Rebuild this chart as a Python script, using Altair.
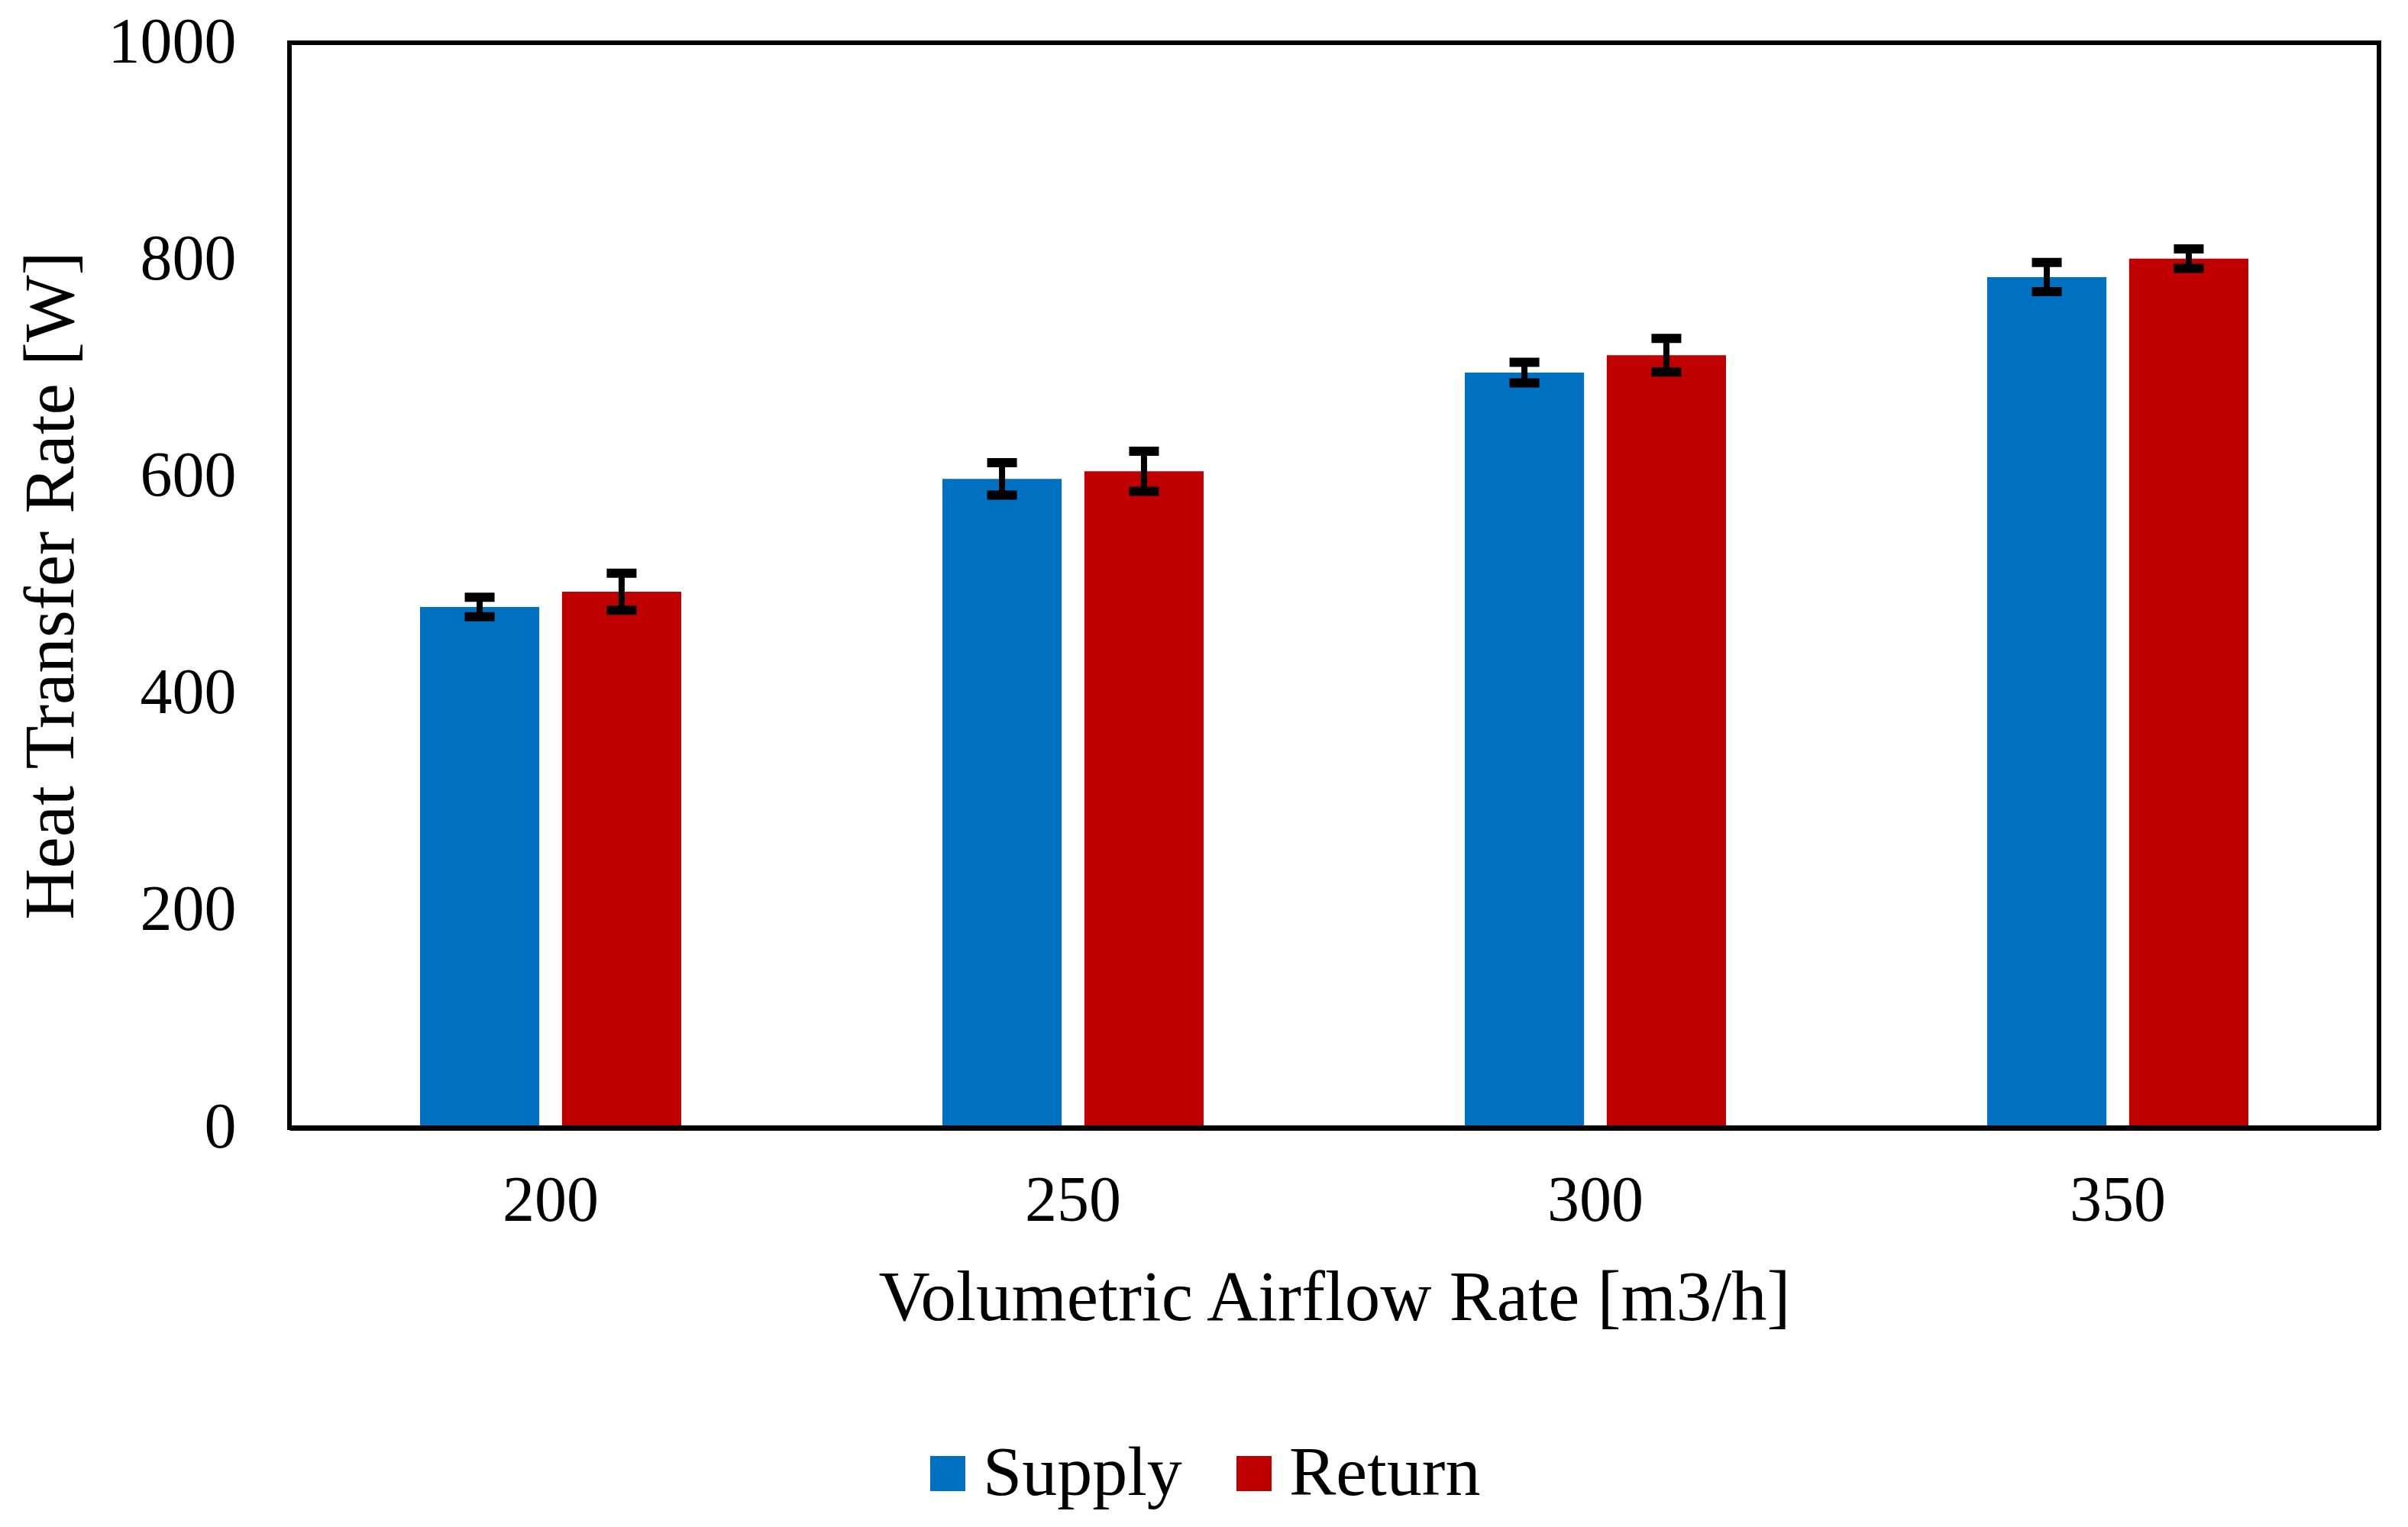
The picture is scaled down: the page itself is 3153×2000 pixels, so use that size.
import altair as alt
import pandas as pd

categories = ["200", "250", "300", "350"]
series = ["Supply", "Return"]
supply_values = [480, 598, 696, 784]
supply_errors = [9, 15, 9.5, 13.5]
return_values = [494, 605, 712, 801]
return_errors = [17, 18.5, 15.5, 9]
y_ticks = [0, 200, 400, 600, 800, 1000]
colors = ["#0070C0", "#C00000"]

rows = []
for c, v, e in zip(categories, supply_values, supply_errors):
    rows.append({"cat": c, "series": "Supply", "value": v, "lo": v - e, "hi": v + e})
for c, v, e in zip(categories, return_values, return_errors):
    rows.append({"cat": c, "series": "Return", "value": v, "lo": v - e, "hi": v + e})
df = pd.DataFrame(rows)

FONT = "Liberation Serif"

x_enc = alt.X(
    "cat:N",
    sort=categories,
    scale=alt.Scale(paddingInner=0.5, paddingOuter=0.25),
    axis=alt.Axis(
        title="Volumetric Airflow Rate [m3/h]",
        labelAngle=0,
        ticks=False,
        tickSize=0,
        labelPadding=55,
        titlePadding=40,
        domain=True,
        domainColor="black",
        domainWidth=7,
        zindex=1,
        grid=False,
        labelFont=FONT,
        labelFontSize=84,
        labelColor="black",
        titleFont=FONT,
        titleFontSize=93,
        titleFontWeight="normal",
        titleColor="black",
    ),
)
xoff_enc = alt.XOffset("series:N", sort=series, scale=alt.Scale(paddingInner=0.16, paddingOuter=0))
y_scale = alt.Scale(domain=[0, 1000], nice=False)

bars = alt.Chart(df).mark_bar().encode(
    x=x_enc,
    xOffset=xoff_enc,
    y=alt.Y(
        "value:Q",
        scale=y_scale,
        axis=alt.Axis(
            title="Heat Transfer Rate [W]",
            values=y_ticks,
            format="d",
            ticks=False,
            tickSize=0,
            labelPadding=70,
            titlePadding=64,
            domain=False,
            grid=False,
            labelFont=FONT,
            labelFontSize=84,
            labelColor="black",
            titleFont=FONT,
            titleFontSize=93,
            titleFontWeight="normal",
            titleColor="black",
        ),
    ),
    color=alt.Color(
        "series:N",
        sort=series,
        scale=alt.Scale(domain=series, range=colors),
        legend=alt.Legend(
            title=None,
            orient="none",
            direction="horizontal",
            legendX=816,
            legendY=1828,
            padding=0,
            symbolType="square",
            symbolSize=2116,
            symbolStrokeWidth=0,
            labelFont=FONT,
            labelFontSize=92,
            labelColor="black",
            labelOffset=0,
            columnPadding=48,
            labelLimit=0,
        ),
    ),
)

stems = alt.Chart(df).mark_rule(color="black", strokeWidth=8).encode(
    x=alt.X("cat:N", sort=categories),
    xOffset=xoff_enc,
    y=alt.Y("lo:Q", scale=y_scale),
    y2="hi:Q",
)
caps_lo = alt.Chart(df).mark_tick(color="black", size=39, thickness=12, opacity=1).encode(
    x=alt.X("cat:N", sort=categories),
    xOffset=xoff_enc,
    y=alt.Y("lo:Q", scale=y_scale),
)
caps_hi = alt.Chart(df).mark_tick(color="black", size=39, thickness=12, opacity=1).encode(
    x=alt.X("cat:N", sort=categories),
    xOffset=xoff_enc,
    y=alt.Y("hi:Q", scale=y_scale),
)

chart = (
    alt.layer(bars, stems, caps_lo, caps_hi)
    .properties(
        width=2736,
        height=1421,
        autosize=alt.AutoSizeParams(type="none"),
        padding={"left": 371, "top": 48, "right": 30, "bottom": 515},
        background="white",
    )
    .configure_view(stroke="black", strokeWidth=6)
)

chart.save("out.html", embed_options={"renderer": "svg", "actions": False})
